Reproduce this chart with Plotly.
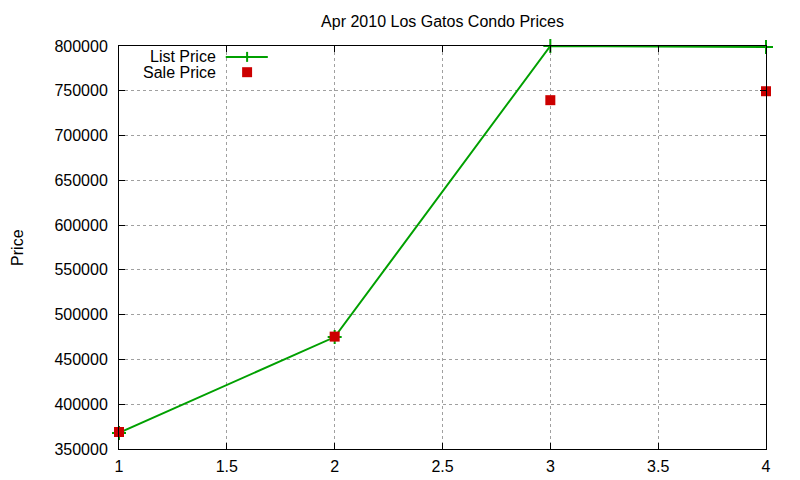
import plotly.graph_objects as go

# data
months = [1, 2, 3, 4]
list_price = [368000, 475000, 800000, 799000]
sale_price = [369000, 475500, 739500, 749500]

x_ticks = [1, 1.5, 2, 2.5, 3, 3.5, 4]
y_ticks = [350000, 400000, 450000, 500000, 550000, 600000, 650000, 700000, 750000, 800000]

green = "#00a000"
red = "#cc0000"
font = dict(family="Liberation Sans, Arial, sans-serif", size=16, color="black")

fig = go.Figure()
fig.add_trace(go.Scatter(
    x=months, y=list_price, mode="lines+markers", name="List Price",
    line=dict(color=green, width=2),
    marker=dict(symbol="cross-thin", size=10, line=dict(color=green, width=2)),
    cliponaxis=False,
))
fig.add_trace(go.Scatter(
    x=months, y=sale_price, mode="markers", name="Sale Price",
    marker=dict(symbol="square", size=10, color=red),
    cliponaxis=False,
))

axis_common = dict(
    showline=True, linecolor="black", linewidth=1, mirror="allticks",
    ticks="inside", ticklen=6, tickcolor="black", tickwidth=1,
    showgrid=True, gridcolor="#a0a0a0", griddash="dot", gridwidth=1,
    zeroline=False, tickfont=font, automargin=False,
)

fig.update_xaxes(range=[1, 4], tickvals=x_ticks, ticktext=[f"{v:g}" for v in x_ticks],
                 ticklabelstandoff=3, **axis_common)
fig.update_yaxes(range=[350000, 800000], tickvals=y_ticks, ticktext=[str(v) for v in y_ticks],
                 ticklabelstandoff=7, **axis_common)

# y axis label, placed like gnuplot does it
fig.add_annotation(xref="paper", yref="paper", x=-0.157, y=0.5, text="Price", textangle=-90,
                   showarrow=False, xanchor="center", yanchor="middle", font=font)

# gnuplot-style key: text on the left, sample on the right
key_x = 0.153
key_rows = [0.973, 0.935]
for name, y in zip(["List Price", "Sale Price"], key_rows):
    fig.add_annotation(xref="paper", yref="paper", x=key_x, y=y, text=name, height=15,
                       showarrow=False, xanchor="right", yanchor="middle", font=font)
fig.add_shape(type="line", xref="paper", yref="paper", x0=0.165, x1=0.230,
              y0=key_rows[0], y1=key_rows[0], line=dict(color=green, width=2))
fig.add_shape(type="line", xref="paper", yref="paper", x0=0.198, x1=0.198,
              y0=key_rows[0] - 0.0124, y1=key_rows[0] + 0.0124, line=dict(color=green, width=2))
fig.add_shape(type="rect", xref="paper", yref="paper", x0=0.1903, x1=0.2057,
              y0=key_rows[1] - 0.0124, y1=key_rows[1] + 0.0124, line=dict(width=0), fillcolor=red)

# the page puts the figure ~7px in from the top-left corner, so size it to fit
fig.update_layout(
    width=793, height=473,
    title=dict(text="Apr 2010 Los Gatos Condo Prices", xref="paper", x=0.5, xanchor="center",
               y=0.9725, yanchor="middle", font=font),
    showlegend=False,
    margin=dict(l=111, r=35, t=38, b=32),
    plot_bgcolor="white", paper_bgcolor="white",
    font=font,
)

fig.write_html("out.html")
